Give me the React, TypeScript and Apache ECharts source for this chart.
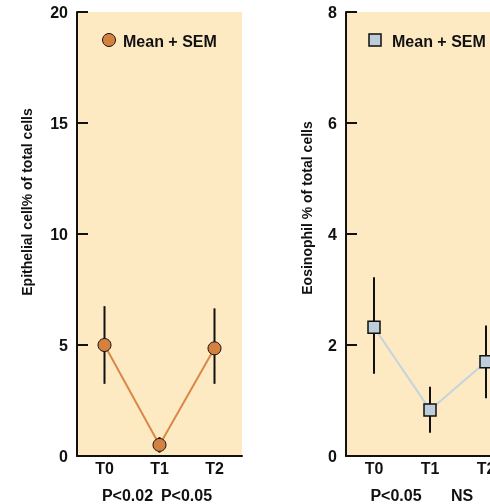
import React, { useEffect, useRef } from "react";
import * as echarts from "echarts";

const categories = ["T0", "T1", "T2"];

const epiMean = [5.0, 0.5, 4.85];
const epiLow = [3.25, 0.15, 3.25];
const epiHigh = [6.75, 0.85, 6.65];

const eosMean = [2.32, 0.83, 1.7];
const eosLow = [1.48, 0.42, 1.04];
const eosHigh = [3.22, 1.25, 2.35];

const leftTitle = "Epithelial cell% of total cells";
const rightTitle = "Eosinophil % of total cells";
const legendText = "Mean + SEM";
const leftPValues = ["P<0.02", "P<0.05"];
const rightPValues = ["P<0.05", "NS"];

const FONT = "'Liberation Sans', Arial, sans-serif";
const INK = "#111111";
const BG = "#FDEAC3";
const ORANGE = "#D4813F";
const ORANGE_LINE = "#DA8747";
const BLUE = "#BDCDD9";
const BLUE_LINE = "#C4D4DF";

function errorBarSeries(xAxisIndex: number, low: number[], high: number[]) {
  return {
    type: "custom",
    xAxisIndex,
    yAxisIndex: xAxisIndex,
    z: 1,
    silent: true,
    data: low.map((l, i) => [i, l, high[i]]),
    renderItem: (params: any, api: any) => {
      const p1 = api.coord([api.value(0), api.value(1)]);
      const p2 = api.coord([api.value(0), api.value(2)]);
      return {
        type: "line",
        shape: { x1: p1[0], y1: p1[1], x2: p2[0], y2: p2[1] },
        style: { stroke: INK, lineWidth: 2 },
      };
    },
  };
}

function yAxis(gridIndex: number, max: number, interval: number) {
  return {
    type: "value",
    gridIndex,
    min: 0,
    max,
    interval,
    axisLine: { show: true, lineStyle: { color: INK, width: 2 } },
    axisTick: { show: true, inside: true, length: 11, lineStyle: { color: INK, width: 2 } },
    axisLabel: { color: INK, fontFamily: FONT, fontWeight: "bold", fontSize: 16, margin: 9 },
    splitLine: { show: false },
  };
}

function xAxis(gridIndex: number) {
  return {
    type: "category",
    gridIndex,
    data: categories,
    axisLine: { show: true, lineStyle: { color: INK, width: 2 } },
    axisTick: { show: false },
    axisLabel: { color: INK, fontFamily: FONT, fontWeight: "bold", fontSize: 16, margin: 4 },
    splitLine: { show: false },
  };
}

export default function App() {
  const ref = useRef<HTMLDivElement>(null);

  useEffect(() => {
    document.body.style.margin = "0";
    document.body.style.overflow = "hidden";
    const chart = echarts.init(ref.current!, undefined, { renderer: "svg" });
    const textStyle = (size: number) => ({
      fill: INK,
      fontFamily: FONT,
      fontWeight: "bold",
      fontSize: size,
    });
    chart.setOption({
      animation: false,
      grid: [
        { left: 77, top: 12, width: 165, height: 444, show: true, backgroundColor: BG, borderWidth: 0 },
        { left: 346, top: 12, width: 168, height: 444, show: true, backgroundColor: BG, borderWidth: 0 },
      ],
      xAxis: [xAxis(0), xAxis(1)],
      yAxis: [yAxis(0, 20, 5), yAxis(1, 8, 2)],
      series: [
        errorBarSeries(0, epiLow, epiHigh),
        {
          type: "line",
          name: legendText,
          xAxisIndex: 0,
          yAxisIndex: 0,
          z: 3,
          data: epiMean,
          symbol: "circle",
          symbolSize: 13,
          itemStyle: { color: ORANGE, borderColor: INK, borderWidth: 1 },
          lineStyle: { color: ORANGE_LINE, width: 2 },
        },
        errorBarSeries(1, eosLow, eosHigh),
        {
          type: "line",
          name: legendText,
          xAxisIndex: 1,
          yAxisIndex: 1,
          z: 3,
          data: eosMean,
          symbol: "rect",
          symbolSize: 12,
          itemStyle: { color: BLUE, borderColor: INK, borderWidth: 1.5 },
          lineStyle: { color: BLUE_LINE, width: 2 },
        },
      ],
      graphic: [
        { type: "circle", shape: { cx: 109, cy: 40, r: 6.5 }, style: { fill: ORANGE, stroke: INK, lineWidth: 1 } },
        { type: "text", x: 123, y: 41, style: { text: legendText, ...textStyle(16), align: "left", verticalAlign: "middle" } },
        { type: "rect", shape: { x: 369, y: 34, width: 12, height: 12 }, style: { fill: BLUE, stroke: INK, lineWidth: 1.5 } },
        { type: "text", x: 392, y: 41, style: { text: legendText, ...textStyle(16), align: "left", verticalAlign: "middle" } },
        { type: "text", x: 27, y: 202, rotation: Math.PI / 2, style: { text: leftTitle, ...textStyle(14), align: "center", verticalAlign: "middle" } },
        { type: "text", x: 307, y: 208, rotation: Math.PI / 2, style: { text: rightTitle, ...textStyle(14), align: "center", verticalAlign: "middle" } },
        { type: "text", x: 127.5, y: 495, style: { text: leftPValues[0], ...textStyle(16), align: "center", verticalAlign: "middle" } },
        { type: "text", x: 186.5, y: 495, style: { text: leftPValues[1], ...textStyle(16), align: "center", verticalAlign: "middle" } },
        { type: "text", x: 396, y: 495, style: { text: rightPValues[0], ...textStyle(16), align: "center", verticalAlign: "middle" } },
        { type: "text", x: 462, y: 495, style: { text: rightPValues[1], ...textStyle(16), align: "center", verticalAlign: "middle" } },
      ],
    });
    return () => chart.dispose();
  }, []);

  return <div ref={ref} style={{ position: "fixed", left: 0, top: 0, width: 530, height: 504 }} />;
}
